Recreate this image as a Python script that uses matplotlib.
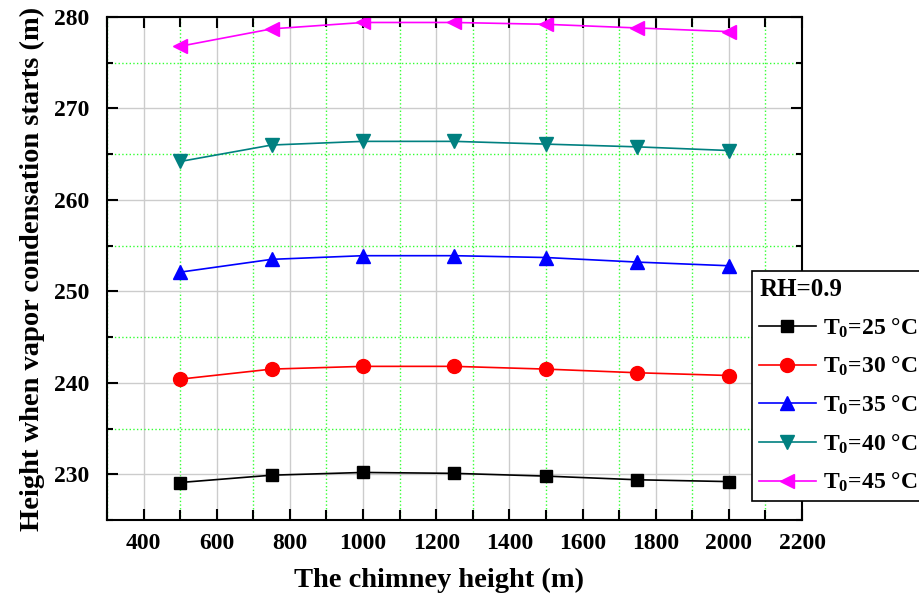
import matplotlib.pyplot as plt
from matplotlib.ticker import MultipleLocator

plt.rcParams['font.family'] = ['Liberation Serif', 'DejaVu Serif']
plt.rcParams['font.weight'] = 'bold'
plt.rcParams['mathtext.fontset'] = 'custom'
plt.rcParams['mathtext.rm'] = 'Liberation Serif:bold'
plt.rcParams['mathtext.it'] = 'Liberation Serif:bold'
plt.rcParams['mathtext.bf'] = 'Liberation Serif:bold'

# chimney height (m)
heights = [500, 750, 1000, 1250, 1500, 1750, 2000]

t25 = [229.1, 229.9, 230.2, 230.1, 229.8, 229.4, 229.2]
t30 = [240.4, 241.5, 241.8, 241.8, 241.5, 241.1, 240.8]
t35 = [252.1, 253.5, 253.9, 253.9, 253.7, 253.2, 252.8]
t40 = [264.2, 266.0, 266.4, 266.4, 266.1, 265.8, 265.4]
t45 = [276.8, 278.7, 279.4, 279.4, 279.2, 278.8, 278.4]

series = [
    (t25, 'black', 's', 9, r'T$_0$=25 °C'),
    (t30, 'red', 'o', 10, r'T$_0$=30 °C'),
    (t35, 'blue', '^', 10, r'T$_0$=35 °C'),
    (t40, '#008080', 'v', 10, r'T$_0$=40 °C'),
    (t45, 'magenta', '<', 10, r'T$_0$=45 °C'),
]

fig = plt.figure(figsize=(9.19, 5.96), dpi=100)
ax = fig.add_axes([0.1164, 0.1275, 0.7563, 0.844])

for vals, c, m, ms, lab in series:
    ax.plot(heights, vals, color=c, marker=m, ms=ms, lw=1.2, label=lab)

ax.set_xlim(300, 2200)
ax.set_ylim(225, 280)
ax.xaxis.set_major_locator(MultipleLocator(200))
ax.xaxis.set_minor_locator(MultipleLocator(100))
ax.yaxis.set_major_locator(MultipleLocator(10))
ax.yaxis.set_minor_locator(MultipleLocator(5))

ax.grid(True, which='major', color='#cccccc', lw=1.0, ls='-')
ax.grid(True, which='minor', color='#33ff33', lw=1.0, ls=':')
ax.set_axisbelow(True)

ax.tick_params(which='both', direction='in', top=True, right=True,
               labelsize=17, width=1.5)
ax.tick_params(axis='x', which='major', length=8, pad=9)
ax.tick_params(axis='x', which='minor', length=7)
ax.tick_params(axis='y', which='major', length=8, pad=13)
ax.tick_params(axis='y', which='minor', length=4.5)
for sp in ax.spines.values():
    sp.set_linewidth(1.5)

ax.set_xlabel('The chimney height (m)', fontsize=20.5, fontweight='bold',
              labelpad=10)
ax.xaxis.label.set_x(0.478)
ax.set_ylabel('Height when vapor condensation starts (m)', fontsize=20.5,
              fontweight='bold', labelpad=6)

leg = fig.legend(loc='upper left', bbox_to_anchor=(752 / 919, 1 - 271 / 596),
                 bbox_transform=fig.transFigure, title='RH=0.9',
                 fontsize=17, title_fontsize=18, handlelength=2.4,
                 fancybox=False, edgecolor='black', framealpha=1,
                 borderaxespad=0, borderpad=0.3, labelspacing=0.65,
                 alignment='left', handletextpad=0.3)
leg.get_frame().set_linewidth(1.2)
leg.get_title().set_fontweight('bold')

fig.savefig('out.png', dpi=100)
